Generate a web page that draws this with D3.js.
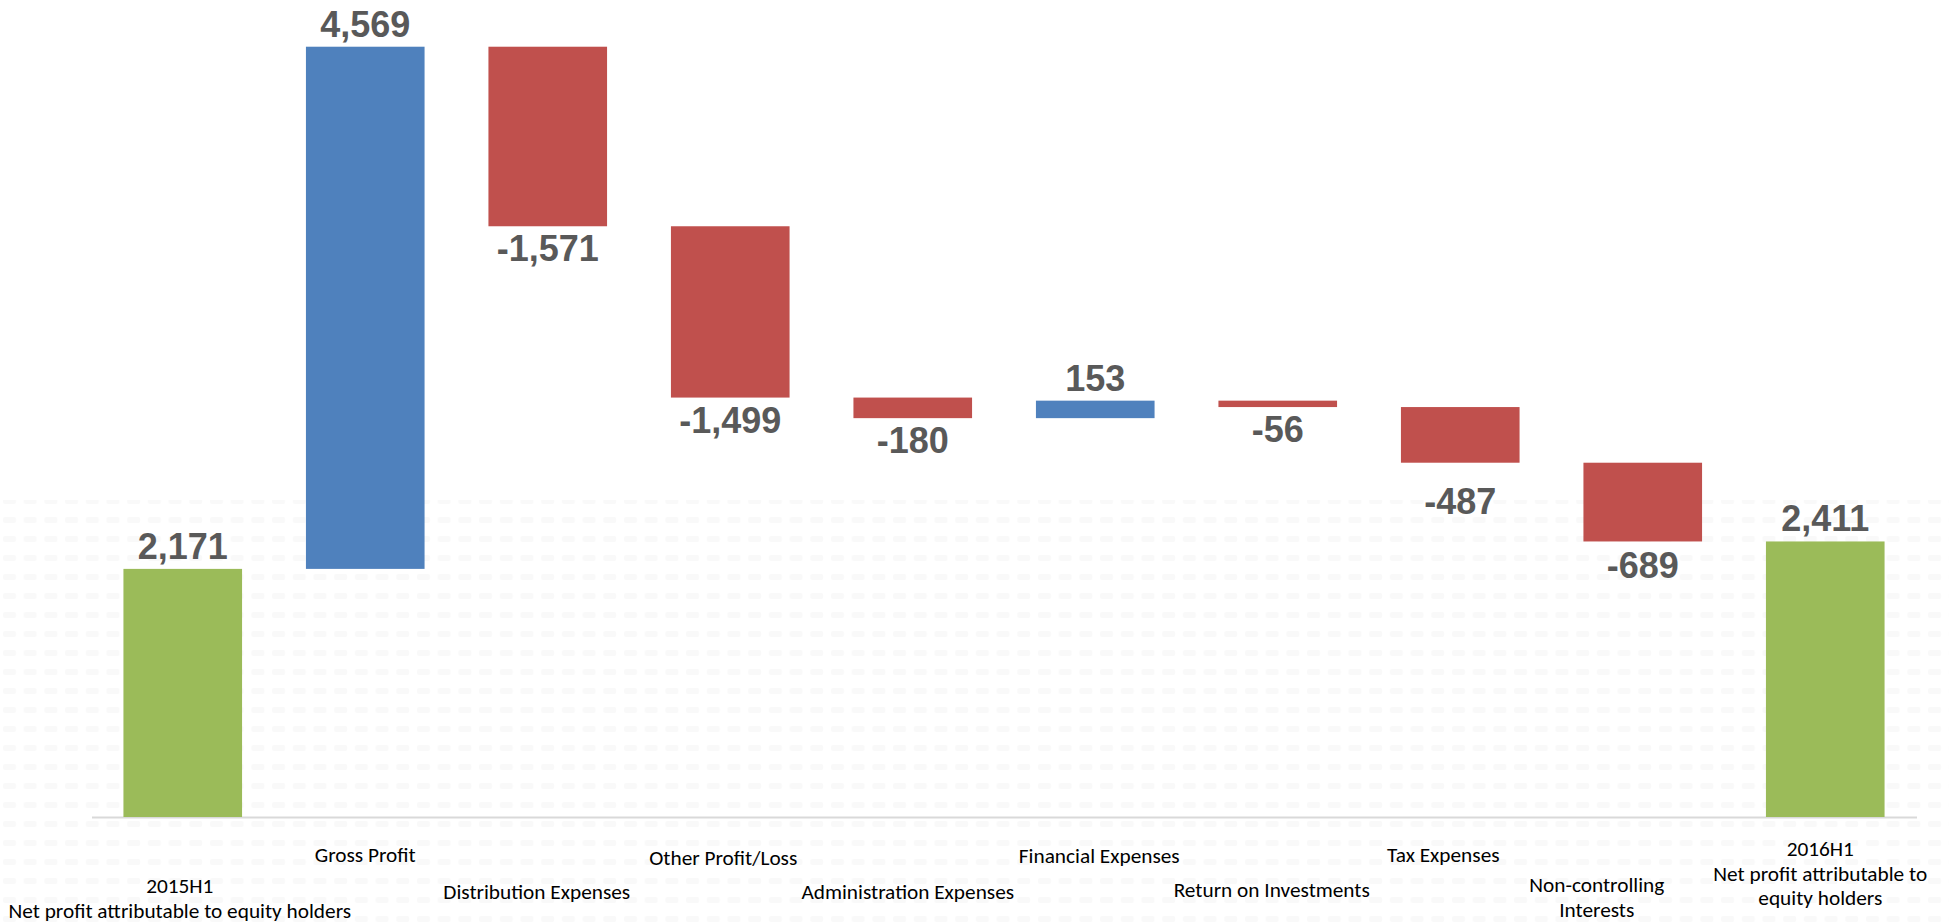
<!DOCTYPE html>
<html>
<head>
<meta charset="utf-8">
<script src="https://cdn.jsdelivr.net/npm/d3@7"></script>
<style>
  html, body { margin: 0; padding: 0; background: #ffffff; }
  svg { display: block; }
</style>
</head>
<body>
<svg id="chart" width="1949" height="922"></svg>
<script>
// ---- data ----
const categories = [
  "2015H1\nNet profit attributable to equity holders",
  "Gross Profit",
  "Distribution Expenses",
  "Other Profit/Loss",
  "Administration Expenses",
  "Financial Expenses",
  "Return on Investments",
  "Tax Expenses",
  "Non-controlling\nInterests",
  "2016H1\nNet profit attributable to\nequity holders"
];
const values = [2171, 4569, -1571, -1499, -180, 153, -56, -487, -689, 2411];
const kinds = ["total", "delta", "delta", "delta", "delta", "delta", "delta", "delta", "delta", "total"];
const yTicks = [0, 7000];

// ---- style / layout (not data) ----
const W = 1949, H = 922;
const colors = { total: "#9BBB59", up: "#4F81BD", down: "#C0504D" };
const labelRowY = [893, 862, 899, 865, 899, 863, 897, 862, 892, 856]; // baseline of first line
const labelDX   = [-3, 0, -11, -7, -5, 4, -6, -17, -46, -5];
const valueLabelExtra = [0, 0, 0, 0, 0, 0, 0, 16, 2, 0];

const svg = d3.select("#chart");

// faint background pattern (as in the source image)
const defs = svg.append("defs");
const pat = defs.append("pattern")
  .attr("id", "dash").attr("patternUnits", "userSpaceOnUse")
  .attr("width", 20.7).attr("height", 19);
pat.append("rect").attr("x", 3).attr("y", 4).attr("width", 13).attr("height", 6)
  .attr("rx", 2).attr("fill", "#f9f9f9");
svg.append("rect").attr("x", 0).attr("y", 500).attr("width", W).attr("height", H - 500)
  .attr("fill", "url(#dash)");

// scales
const x = d3.scaleBand().domain(categories).range([91.5, 1916.5])
  .paddingInner(0.35).paddingOuter(0.175);
const y = d3.scaleLinear().domain(d3.extent(yTicks)).range([817, 17]);

// waterfall geometry
let running = 0;
const bars = categories.map((c, i) => {
  const v = values[i];
  let y0, y1, fill;
  if (kinds[i] === "total") {
    y0 = 0; y1 = v; running = v; fill = colors.total;
  } else {
    y0 = running; y1 = running + v; running = y1; fill = v >= 0 ? colors.up : colors.down;
  }
  return { c, i, v, lo: Math.min(y0, y1), hi: Math.max(y0, y1), fill, kind: kinds[i] };
});

// axis (baseline + category labels)
const axis = d3.axisBottom(x).tickSize(0).tickSizeOuter(0);
const gAxis = svg.append("g").attr("transform", `translate(0,${y(0)})`).call(axis);
gAxis.select(".domain").attr("stroke", "#d9d9d9").attr("stroke-width", 2);
gAxis.selectAll(".tick text").each(function(d, i) {
  const t = d3.select(this);
  t.text(null).attr("y", null).attr("dy", null)
    .attr("fill", "#000").attr("font-family", "Carlito, Calibri, Lato, 'Open Sans', sans-serif")
    .attr("font-size", 21.3).attr("text-anchor", "middle");
  const lines = d.split("\n");
  lines.forEach((ln, k) => {
    t.append("tspan").attr("x", labelDX[i]).attr("y", labelRowY[i] - y(0) + k * 24.5).text(ln);
  });
});

// bars
svg.append("g").selectAll("rect.bar").data(bars).join("rect")
  .attr("class", "bar")
  .attr("x", d => x(d.c))
  .attr("width", x.bandwidth())
  .attr("y", d => y(d.hi))
  .attr("height", d => Math.max(1, y(d.lo) - y(d.hi)))
  .attr("fill", d => d.fill);

// value labels
const fmt = d3.format(",");
svg.append("g").selectAll("text.val").data(bars).join("text")
  .attr("class", "val")
  .attr("x", d => x(d.c) + x.bandwidth() / 2)
  .attr("y", d => (d.v >= 0 ? y(d.hi) - 10 : y(d.lo) + 35 + valueLabelExtra[d.i]))
  .attr("text-anchor", "middle")
  .attr("font-family", "'Liberation Sans', Arial, sans-serif")
  .attr("font-weight", "bold")
  .attr("font-size", 36)
  .attr("fill", "#595959")
  .text(d => fmt(d.v).replace("−", "-"));
</script>
</body>
</html>
